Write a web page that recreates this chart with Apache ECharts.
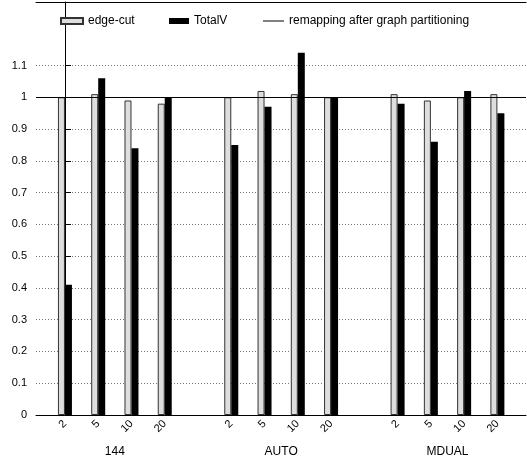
<!DOCTYPE html>
<html>
<head>
<meta charset="utf-8">
<script src="https://cdn.jsdelivr.net/npm/echarts@6/dist/echarts.min.js"></script>
<style>html,body{margin:0;padding:0;background:#fff;overflow:hidden}#c{width:527px;height:461px}</style>
</head>
<body>
<div id="c"></div>
<script>
const groups = ['144', 'AUTO', 'MDUAL'];
const procs = ['2', '5', '10', '20'];
const edgeCut = [1.00, 1.01, 0.99, 0.98, 1.00, 1.02, 1.01, 1.00, 1.01, 0.99, 1.00, 1.01];
const totalV = [0.41, 1.06, 0.84, 1.00, 0.85, 0.97, 1.14, 1.00, 0.98, 0.86, 1.02, 0.95];
const remapping = 1.0;
const yTicks = [0, 0.1, 0.2, 0.3, 0.4, 0.5, 0.6, 0.7, 0.8, 0.9, 1, 1.1];

const FONT = 'Liberation Sans';
const slot = procs.length + 1;
const xPos = [];
const xLab = {};
groups.forEach((g, gi) => procs.forEach((p, pi) => {
  const x = gi * slot + pi;
  xPos.push(x);
  xLab[x] = p;
}));
const groupPos = groups.map((g, gi) => gi * slot + (procs.length - 1) / 2);
const groupLab = {};
groupPos.forEach((x, i) => groupLab[x] = groups[i]);
const xMin = -0.87, xMax = 13.86;

const legendText = { fontSize: 12, color: '#000', fontFamily: FONT };
const chart = echarts.init(document.getElementById('c'));
chart.setOption({
  animation: false,
  textStyle: { fontFamily: FONT },
  grid: { left: 36, right: 1, top: 2, bottom: 46, containLabel: false },
  legend: [
    { data: [{ name: 'edge-cut', icon: 'rect' }], left: 55, top: 10, itemWidth: 22, itemHeight: 6, textStyle: legendText },
    { data: [{ name: 'TotalV', icon: 'rect' }], left: 164, top: 10, itemWidth: 20, itemHeight: 6, textStyle: legendText },
    { data: [{ name: 'remapping after graph partitioning', icon: 'rect', itemStyle: { color: '#000', borderWidth: 0 } }], left: 258, top: 10, itemWidth: 21, itemHeight: 1, textStyle: legendText }
  ],
  xAxis: [
    {
      type: 'value', min: xMin, max: xMax,
      axisLine: { show: true, lineStyle: { color: '#000', width: 1 } },
      axisTick: { show: false },
      splitLine: { show: false },
      axisLabel: {
        customValues: xPos, rotate: 45, fontSize: 11, color: '#000', margin: 7,
        formatter: v => xLab[v] !== undefined ? xLab[v] : ''
      }
    },
    {
      type: 'value', min: xMin, max: xMax, position: 'bottom',
      axisLine: { show: false }, axisTick: { show: false }, splitLine: { show: false },
      axisLabel: {
        customValues: groupPos, fontSize: 12, color: '#000', margin: 31,
        formatter: v => groupLab[v] !== undefined ? groupLab[v] : ''
      }
    },
    {
      type: 'value', min: xMin, max: xMax, position: 'top',
      axisLine: { show: true, lineStyle: { color: '#000', width: 1 } },
      axisTick: { show: false }, splitLine: { show: false }, axisLabel: { show: false }
    }
  ],
  yAxis: {
    type: 'value', min: 0, max: 1.3, interval: 0.1,
    axisLine: { show: true, lineStyle: { color: '#000', width: 1 } },
    axisTick: { show: true, inside: true, length: 6, customValues: yTicks, lineStyle: { color: '#000' } },
    axisLabel: { customValues: yTicks, fontSize: 11, color: '#000', margin: 9, formatter: v => String(+v.toFixed(1)) },
    splitLine: { show: true, lineStyle: { color: '#777', type: [1, 2], width: 1 } }
  },
  series: [
    {
      name: 'edge-cut', type: 'bar', xAxisIndex: 0, barWidth: 7, barGap: '0%',
      itemStyle: { color: '#dedede', borderColor: '#333', borderWidth: 1 },
      data: xPos.map((x, i) => [x, edgeCut[i]]), z: 3
    },
    {
      name: 'TotalV', type: 'bar', xAxisIndex: 0, barWidth: 7, barGap: '0%',
      itemStyle: { color: '#000' },
      data: xPos.map((x, i) => [x, totalV[i]]), z: 3
    },
    {
      name: 'remapping after graph partitioning', type: 'line', xAxisIndex: 0,
      symbol: 'none', lineStyle: { color: '#000', width: 1 }, itemStyle: { color: '#000' },
      data: [],
      markLine: {
        silent: true, symbol: 'none', label: { show: false },
        lineStyle: { color: '#000', width: 1, type: 'solid' },
        data: [{ yAxis: remapping }]
      },
      z: 4
    }
  ]
});
</script>
</body>
</html>
